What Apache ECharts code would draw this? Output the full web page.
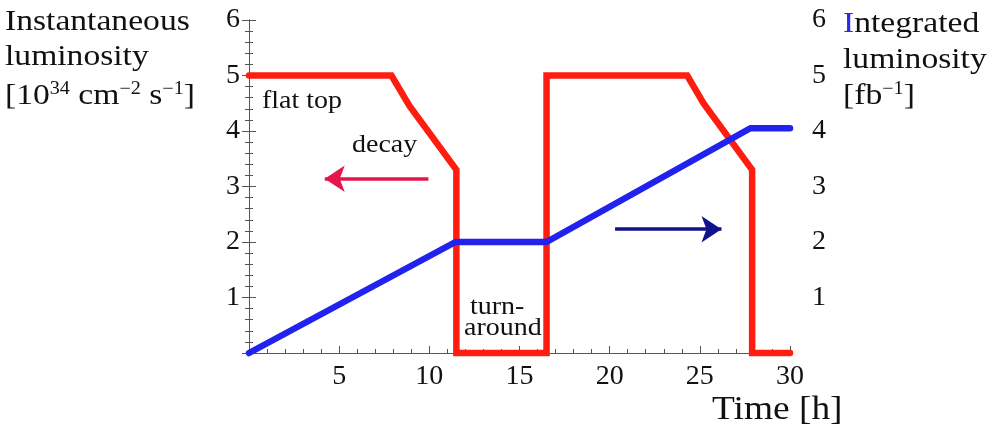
<!DOCTYPE html>
<html>
<head>
<meta charset="utf-8">
<script src="https://cdn.jsdelivr.net/npm/echarts@6/dist/echarts.min.js"></script>
<style>html,body{margin:0;padding:0;background:#fff}#c{width:994px;height:436px}</style>
</head>
<body>
<div id="c"></div>
<script>
// ---- data ----
const xTicks = [0, 5, 10, 15, 20, 25, 30];
const yTicks = [0, 1, 2, 3, 4, 5, 6];
// instantaneous luminosity [1e34 cm^-2 s^-1] vs time [h]
const instTime  = [0, 7.9, 8.9, 11.5, 11.5, 16.5, 16.5, 24.3, 25.2, 27.9, 27.9, 30];
const instLumi  = [5, 5,   4.45, 3.3, 0,    0,    5,    5,    4.5,  3.3,  0,    0];
// integrated luminosity [fb^-1] vs time [h]
const intTime   = [0, 11.45, 16.5, 27.8, 30];
const intLumi   = [0, 2.0,   2.0,  4.05, 4.05];
// arrows (data coords): [x1, y1, x2, y2]
const redArrow  = [9.95, 3.14, 4.2, 3.14];
const blueArrow = [20.3, 2.23, 26.2, 2.23];

const FONT = '"Liberation Serif", "Times New Roman", Times, serif';
const chart = echarts.init(document.getElementById('c'));

const axisLineStyle = { color: '#555', width: 1 };
function yAx(pos, margin) {
  return {
    type: 'value', position: pos, min: 0, max: 6, interval: 1,
    axisLine: { show: true, lineStyle: axisLineStyle },
    axisTick: { show: true, inside: true, length: 7, lineStyle: axisLineStyle },
    minorTick: { show: true, splitNumber: 5, length: 4, lineStyle: axisLineStyle },
    splitLine: { show: false },
    axisLabel: { margin: margin, fontFamily: FONT, fontSize: 28, color: '#111',
      formatter: v => v === 0 ? '' : String(v) }
  };
}

function txt(x, y, text, size, sx, extra) {
  return Object.assign({
    type: 'text', x: x, y: y, scaleX: sx, scaleY: 1,
    style: { text: text, fontFamily: FONT, fontSize: size, fill: '#111',
      verticalAlign: 'middle', align: 'left' }
  }, extra || {});
}

const supRich = { sup: { fontFamily: FONT, fontSize: 18, fill: '#111', verticalAlign: 'top', lineHeight: 32 },
                  n: { fontFamily: FONT, fontSize: 30, fill: '#111', lineHeight: 32 },
                  b: { fontFamily: FONT, fontSize: 30, fill: '#2a2aee', lineHeight: 32 } };

chart.setOption({
  animation: false,
  backgroundColor: '#fff',
  grid: { left: 249, right: 204, top: 20, bottom: 83, containLabel: false },
  xAxis: [{
    type: 'value', min: 0, max: 30, interval: 5, position: 'bottom',
    axisLine: { show: true, lineStyle: axisLineStyle },
    axisTick: { show: true, inside: true, length: 7, lineStyle: axisLineStyle },
    minorTick: { show: true, splitNumber: 5, length: 4, lineStyle: axisLineStyle },
    splitLine: { show: false },
    axisLabel: { margin: 10, fontFamily: FONT, fontSize: 28, color: '#111',
      formatter: v => v === 0 ? '' : String(v) }
  }, {
    type: 'value', min: 0, max: 30, position: 'top',
    axisLine: { show: true, lineStyle: axisLineStyle },
    axisTick: { show: false }, axisLabel: { show: false }, splitLine: { show: false }
  }],
  yAxis: [yAx('left', 9), yAx('right', 22)],
  series: [{
    type: 'line', xAxisIndex: 0, yAxisIndex: 0, symbol: 'none', clip: false,
    data: instTime.map((t, i) => [t, instLumi[i]]),
    lineStyle: { color: '#ff1c10', width: 6.5, cap: 'round', join: 'miter' },
    z: 3,
    markLine: {
      silent: true, symbol: ['none', 'arrow'], symbolSize: [20, 20],
      label: { show: false },
      data: [
        [{ coord: [redArrow[0], redArrow[1]], lineStyle: { color: '#e3174c', width: 3.5, type: 'solid' } },
         { coord: [redArrow[2], redArrow[3]] }],
        [{ coord: [blueArrow[0], blueArrow[1]], lineStyle: { color: '#11118c', width: 3.5, type: 'solid' } },
         { coord: [blueArrow[2], blueArrow[3]] }]
      ]
    }
  }, {
    type: 'line', xAxisIndex: 0, yAxisIndex: 1, symbol: 'none', clip: false,
    data: intTime.map((t, i) => [t, intLumi[i]]),
    lineStyle: { color: '#2222ee', width: 6.5, cap: 'round', join: 'round' },
    z: 4
  }],
  graphic: [
    txt(5, 22, 'Instantaneous', 30, 1.12),
    txt(5, 57, 'luminosity', 30, 1.12),
    txt(5, 96, '', 30, 1.12, { style: { text: '{n|[10}{sup|34}{n| cm}{sup|−2}{n| s}{sup|−1}{n|]}', rich: supRich, verticalAlign: 'middle', align: 'left' } }),
    txt(843, 24, '', 30, 1.12, { style: { text: '{b|I}{n|ntegrated}', rich: supRich, verticalAlign: 'middle', align: 'left' } }),
    txt(843, 60, 'luminosity', 30, 1.12),
    txt(843, 96, '', 30, 1.12, { style: { text: '{n|[fb}{sup|−1}{n|]}', rich: supRich, verticalAlign: 'middle', align: 'left' } }),
    txt(262, 101, 'flat top', 25, 1.12),
    txt(352, 145, 'decay', 25, 1.12),
    txt(470, 307, 'turn-', 25, 1.12),
    txt(464, 328, 'around', 25, 1.12),
    txt(712, 410, 'Time [h]', 34, 1.1)
  ]
});
</script>
</body>
</html>
